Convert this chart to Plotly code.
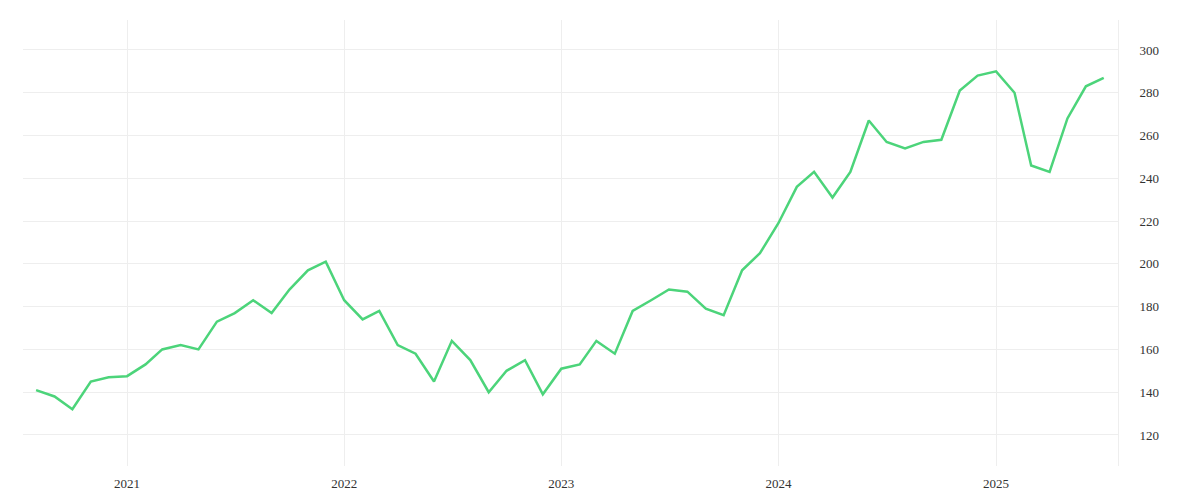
import plotly.graph_objects as go
import pandas as pd

dates = pd.date_range("2020-08-01", periods=60, freq="MS")
values = [141,138,132,145,147,147.5,153,160,162,160,173,177,183,177,188,197,201,
          183,174,178,162,158,145,164,155,140,150,155,139,
          151,153,164,158,178,183,188,187,179,176,197,205,
          219,236,243,231,243,267,257,254,257,258,281,288,
          290,280,246,243,268,283,287]
tick_years = ["2021-01-01","2022-01-01","2023-01-01","2024-01-01","2025-01-01"]
tick_text = ["2021","2022","2023","2024","2025"]

fig = go.Figure(go.Scatter(x=dates, y=values, mode="lines",
                           line=dict(color="#4cd47a", width=2.5)))
fig.update_layout(
    width=1200, height=500, margin=dict(l=15, r=90, t=12, b=42),
    paper_bgcolor="white", plot_bgcolor="white", showlegend=False,
    font=dict(family="Liberation Serif", size=13, color="#333"),
    xaxis=dict(tickvals=tick_years, ticktext=tick_text, showgrid=True,
               gridcolor="#eeeeee", range=["2020-07-10","2025-07-25"],
               showline=False, zeroline=False, ticks="", ticklabelstandoff=8),
    yaxis=dict(side="right", range=[105.5, 314], tickvals=[120,140,160,180,200,220,240,260,280,300],
               showgrid=True, gridcolor="#eeeeee", showline=True, linecolor="#eeeeee",
               zeroline=False, ticks="", ticklabelstandoff=18),
)
fig.write_html("out.html")
